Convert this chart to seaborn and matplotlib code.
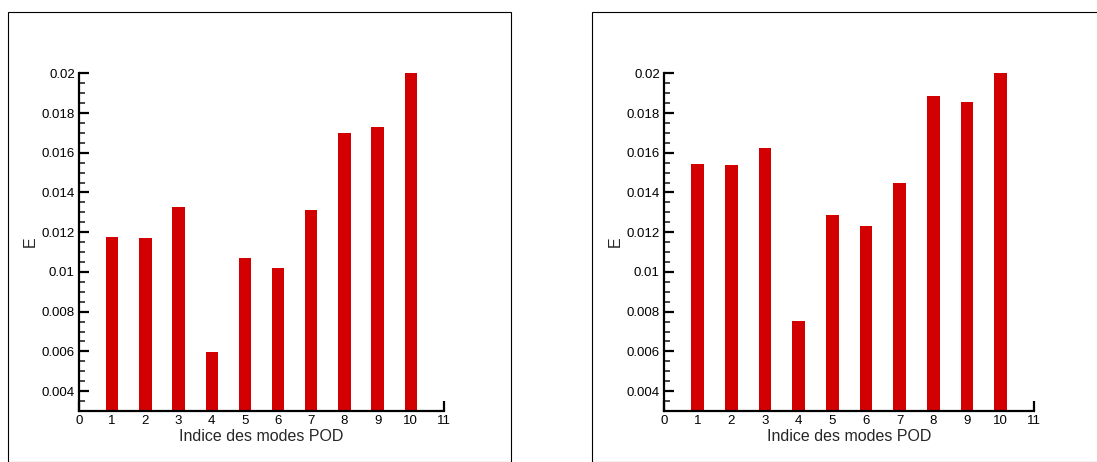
import matplotlib
matplotlib.use('Agg')
import numpy as np
import pandas as pd
import seaborn as sns
from matplotlib import pyplot as plt
from matplotlib import ticker
from matplotlib.patches import Rectangle

# POD mode indices and error values
modes = [1, 2, 3, 4, 5, 6, 7, 8, 9, 10]
err_left = [0.01176, 0.01169, 0.01327, 0.00595, 0.0107,
            0.0102, 0.01313, 0.01697, 0.0173, 0.0200]
err_right = [0.01543, 0.01538, 0.01626, 0.00752, 0.01288,
             0.01233, 0.01447, 0.01884, 0.01854, 0.0200]

BAR_COLOR = '#d20000'

sns.set_style('ticks')
plt.rcParams['font.family'] = ['Liberation Sans', 'DejaVu Sans']


def draw_panel(ax, values):
    df = pd.DataFrame({'mode': modes, 'E': values})
    sns.barplot(data=df, x='mode', y='E', native_scale=True, width=0.37,
                color=BAR_COLOR, saturation=1, ax=ax, linewidth=0)
    ax.set_xlim(0, 11)
    ax.set_ylim(0.003, 0.02)
    ax.set_xticks(range(0, 12))
    ax.set_yticks(np.arange(0.004, 0.0201, 0.002))
    ax.yaxis.set_major_formatter(ticker.FuncFormatter(lambda v, p: '%g' % round(v, 4)))
    ax.yaxis.set_minor_locator(ticker.MultipleLocator(0.0005))
    ax.tick_params(axis='both', which='major', direction='in', length=7,
                   width=1.6, labelsize=9.5, colors='black', pad=3)
    ax.tick_params(axis='y', which='minor', direction='in', length=4, width=1.2)
    ax.tick_params(axis='x', which='minor', length=0)
    for s in ('top', 'right'):
        ax.spines[s].set_visible(False)
    for s in ('left', 'bottom'):
        ax.spines[s].set_linewidth(1.6)
        ax.spines[s].set_color('black')
    ax.set_xlabel('Indice des modes POD', fontsize=11.5, labelpad=1)
    ax.set_ylabel('E', fontsize=11.5, labelpad=3)


fig = plt.figure(figsize=(10.97, 4.62), dpi=100)

# outer frames around each figure
W, H = 1097, 462
fig.patches.append(Rectangle((8 / W, 0), (511 - 8) / W, 1 - 12 / H,
                             transform=fig.transFigure, fill=False,
                             edgecolor='black', linewidth=0.8))
fig.patches.append(Rectangle((592 / W, 0), 1.2, 1 - 12 / H,
                             transform=fig.transFigure, fill=False,
                             edgecolor='black', linewidth=0.8))

ax1 = fig.add_axes([79 / W, 1 - 411 / H, (444 - 79) / W, (411 - 73.3) / H])
ax2 = fig.add_axes([664 / W, 1 - 411 / H, (1034.3 - 664) / W, (411 - 73.3) / H])

draw_panel(ax1, err_left)
draw_panel(ax2, err_right)

fig.savefig('out.png', dpi=100)
